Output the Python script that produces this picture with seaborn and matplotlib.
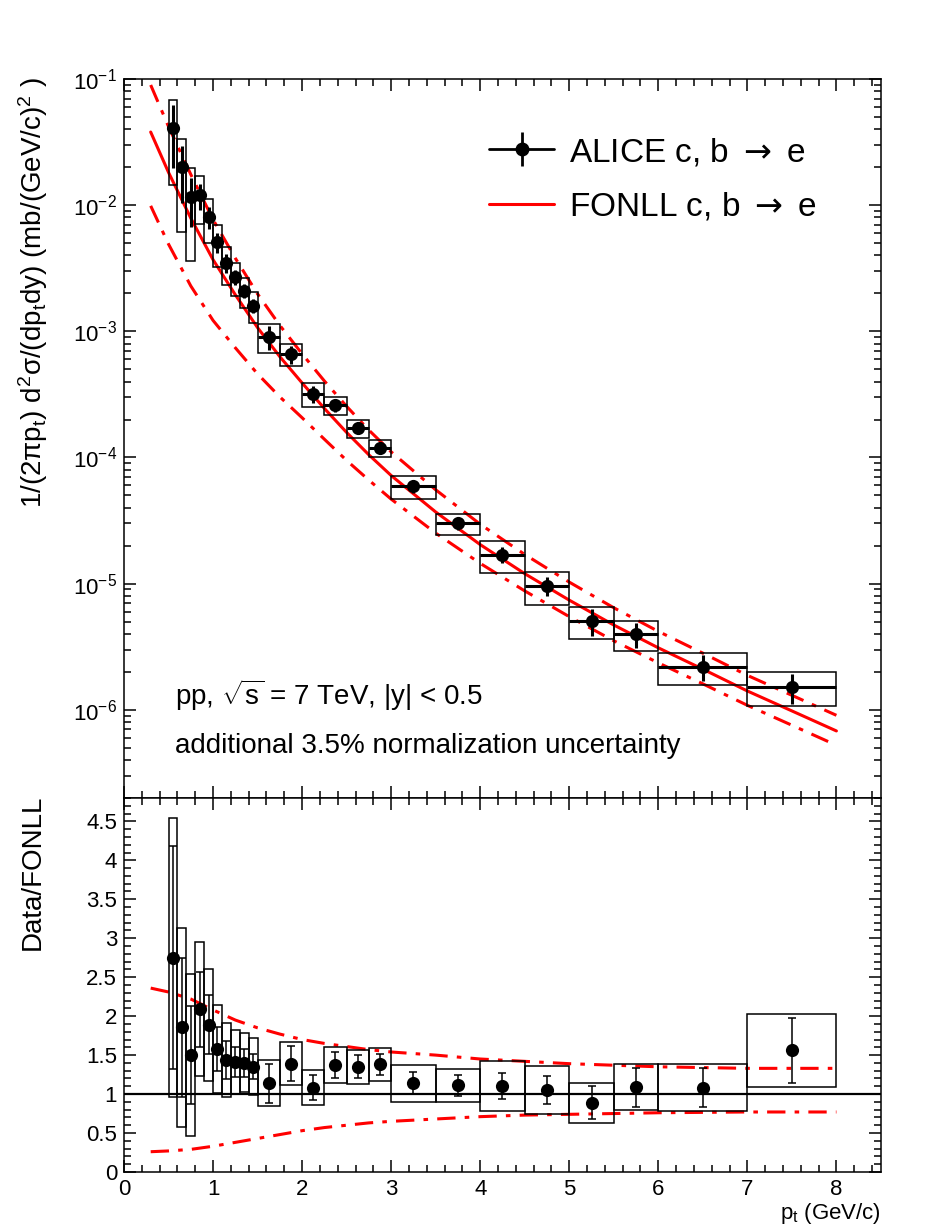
import numpy as np
import matplotlib
matplotlib.use("Agg")
import matplotlib.pyplot as plt
from matplotlib.patches import Rectangle
from matplotlib.lines import Line2D
from matplotlib.ticker import MultipleLocator, LogLocator, NullFormatter
import seaborn as sns

sns.set_style("ticks")
plt.rcParams['font.family'] = ['Liberation Sans', 'DejaVu Sans']
plt.rcParams['mathtext.fontset'] = 'custom'
plt.rcParams['mathtext.rm'] = 'Liberation Sans'
plt.rcParams['mathtext.it'] = 'Liberation Sans'
plt.rcParams['mathtext.sf'] = 'DejaVu Sans'
for key in ['text.color', 'axes.labelcolor', 'xtick.color', 'ytick.color', 'axes.edgecolor']:
    plt.rcParams[key] = 'black'

# ---- data ----
bin_edges = [0.5, 0.6, 0.7, 0.8, 0.9, 1.0, 1.1, 1.2, 1.3, 1.4, 1.5, 1.75, 2.0,
             2.25, 2.5, 2.75, 3.0, 3.5, 4.0, 4.5, 5.0, 5.5, 6.0, 7.0, 8.0]
xsec = [0.0411, 0.0199, 0.0116, 0.0120, 0.0081, 0.0051, 0.0035, 0.0027, 0.0021,
        0.0016, 9.1e-4, 6.6e-4, 3.2e-4, 2.6e-4, 1.71e-4, 1.19e-4, 5.9e-5, 3.0e-5,
        1.70e-5, 9.6e-6, 5.1e-6, 4.0e-6, 2.2e-6, 1.52e-6]
ratio = [2.75, 1.855, 1.50, 2.09, 1.89, 1.58, 1.44, 1.41, 1.40, 1.35, 1.14, 1.39,
         1.08, 1.37, 1.35, 1.38, 1.14, 1.11, 1.10, 1.05, 0.89, 1.09, 1.08, 1.56]
stat_rel = [0.52, 0.48, 0.42, 0.23, 0.20, 0.18, 0.17, 0.14, 0.13, 0.12, 0.22, 0.16,
            0.15, 0.12, 0.11, 0.10, 0.12, 0.12, 0.15, 0.17, 0.24, 0.23, 0.23, 0.27]
sys_rel = [0.65, 0.69, 0.69, 0.41, 0.38, 0.36, 0.33, 0.29, 0.27, 0.27, 0.26, 0.20,
           0.21, 0.17, 0.16, 0.15, 0.21, 0.19, 0.29, 0.29, 0.29, 0.27, 0.28, 0.30]

fonll_pt = [0.3, 0.5, 0.75, 1.0, 1.25, 1.5, 1.75, 2.0, 2.25, 2.5, 2.75, 3.0, 3.5,
            4.0, 4.5, 5.0, 5.5, 6.0, 6.5, 7.0, 7.5, 8.0]
fonll_central = [0.038, 0.0182, 0.0079, 0.0037, 0.00195, 0.00107, 6.3e-4, 3.9e-4,
                 2.45e-4, 1.58e-4, 1.05e-4, 7.2e-5, 3.7e-5, 2.04e-5, 1.2e-5, 7.4e-6,
                 4.7e-6, 3.1e-6, 2.1e-6, 1.41e-6, 9.8e-7, 6.8e-7]
fonll_up_ratio = [2.36, 2.31, 2.22, 2.08, 1.95, 1.85, 1.77, 1.70, 1.65, 1.61, 1.57,
                  1.54, 1.50, 1.45, 1.42, 1.39, 1.37, 1.35, 1.34, 1.33, 1.33, 1.33]
fonll_lo_ratio = [0.26, 0.27, 0.29, 0.33, 0.38, 0.43, 0.48, 0.53, 0.57, 0.60, 0.63,
                  0.65, 0.68, 0.71, 0.73, 0.74, 0.75, 0.76, 0.765, 0.77, 0.77, 0.77]

edges = np.array(bin_edges)
pt = 0.5 * (edges[:-1] + edges[1:])
half_w = 0.5 * (edges[1:] - edges[:-1])
xsec = np.array(xsec)
ratio = np.array(ratio)
stat_rel = np.array(stat_rel)
sys_rel = np.array(sys_rel)
fpt = np.array(fonll_pt)
fc = np.array(fonll_central)
fup = np.array(fonll_up_ratio)
flo = np.array(fonll_lo_ratio)

dashdot = (0, (6, 3, 1.5, 3))

fig = plt.figure(figsize=(9.5, 12.29), dpi=100)
ax1 = fig.add_axes([0.1305, 0.3507, 0.7968, 0.5850])
ax2 = fig.add_axes([0.1305, 0.0464, 0.7968, 0.3043])

# ---- top panel ----
for lo, w, y, s in zip(edges[:-1], 2 * half_w, xsec, sys_rel):
    ax1.add_patch(Rectangle((lo, y * (1 - s)), w, 2 * s * y, fill=False,
                            ec='black', lw=1.1, zorder=3))
sns.lineplot(x=fpt, y=fc, ax=ax1, color='red', lw=2.2, zorder=2)
sns.lineplot(x=fpt, y=fc * fup, ax=ax1, color='red', lw=2.2, linestyle=dashdot, zorder=2)
sns.lineplot(x=fpt, y=fc * flo, ax=ax1, color='red', lw=2.2, linestyle=dashdot, zorder=2)
ax1.errorbar(pt, xsec, xerr=half_w, yerr=xsec * stat_rel, fmt='none',
             ecolor='black', elinewidth=2.2, zorder=4)
sns.scatterplot(x=pt, y=xsec, ax=ax1, color='black', s=90, edgecolor='black',
                linewidth=0, zorder=5)

ax1.set_yscale('log')
ax1.set_xlim(0, 8.5)
ax1.set_ylim(2e-7, 0.1)
ax1.yaxis.set_major_locator(LogLocator(base=10, numticks=20))
ax1.yaxis.set_minor_locator(LogLocator(base=10, subs=np.arange(2, 10), numticks=20))
ax1.yaxis.set_minor_formatter(NullFormatter())
ax1.xaxis.set_major_locator(MultipleLocator(1))
ax1.xaxis.set_minor_locator(MultipleLocator(0.2))
ax1.set_xticklabels([])
ax1.set_xlabel('')
ax1.set_ylabel('')

ax1.text(0.067, 0.143, r'pp, $\sqrt{s}$ = 7 TeV, |y| < 0.5', transform=ax1.transAxes,
         fontsize=20, va='center', ha='left')
ax1.text(0.067, 0.072, 'additional 3.5% normalization uncertainty',
         transform=ax1.transAxes, fontsize=20, va='center', ha='left')

h_data = (Line2D([], [], color='black', lw=2, marker='o', ms=9),
          Line2D([], [], color='black', ls='none', marker='|', ms=24, mew=2))
h_fonll = Line2D([], [], color='red', lw=2.2)
fig.legend([h_data, h_fonll],
           [r'ALICE c, b $\mathsf{\rightarrow}$ e', r'FONLL c, b $\mathsf{\rightarrow}$ e'],
           loc='upper left', bbox_to_anchor=(489 / 950, 1 - 136 / 1229),
           frameon=False, fontsize=24, handlelength=1.95, handletextpad=0.45,
           labelspacing=0.68, borderpad=0, borderaxespad=0)

# ---- ratio panel ----
for lo, w, r, s in zip(edges[:-1], 2 * half_w, ratio, sys_rel):
    ax2.add_patch(Rectangle((lo, r * (1 - s)), w, 2 * s * r, fill=False,
                            ec='black', lw=1.1, zorder=3))
ax2.axhline(1, color='black', lw=1.6, zorder=2)
sns.lineplot(x=fpt, y=fup, ax=ax2, color='red', lw=2.2, linestyle=dashdot, zorder=2)
sns.lineplot(x=fpt, y=flo, ax=ax2, color='red', lw=2.2, linestyle=dashdot, zorder=2)
ax2.errorbar(pt, ratio, yerr=ratio * stat_rel, fmt='none', ecolor='black',
             elinewidth=1.1, capsize=2.8, capthick=1.1, zorder=4)
sns.scatterplot(x=pt, y=ratio, ax=ax2, color='black', s=90, edgecolor='black',
                linewidth=0, zorder=5)

ax2.set_xlim(0, 8.5)
ax2.set_ylim(0, 4.8)
ax2.xaxis.set_major_locator(MultipleLocator(1))
ax2.xaxis.set_minor_locator(MultipleLocator(0.2))
ax2.yaxis.set_major_locator(MultipleLocator(0.5))
ax2.yaxis.set_minor_locator(MultipleLocator(0.1))
ax2.yaxis.set_major_formatter(plt.FuncFormatter(lambda v, p: f'{v:g}'))
ax2.set_xlabel('')
ax2.set_ylabel('')

for ax in (ax1, ax2):
    ax.tick_params(which='both', direction='in', top=True, right=True, width=1.1,
                   labelsize=16, pad=5, colors='black')
    ax.tick_params(which='major', length=8.8)
    ax.tick_params(which='minor', length=4.8)
    for sp in ax.spines.values():
        sp.set_linewidth(1.1)
        sp.set_visible(True)
        sp.set_color('black')

fig.text(33 / 950, 1 - 77 / 1229,
         r'1/(2$\pi$p$_{\mathrm{t}}$) d$^{2}\sigma$/(dp$_{\mathrm{t}}$dy) (mb/(GeV/c)$^{2}$ )',
         rotation=90, ha='center', va='top', fontsize=20)
fig.text(33 / 950, 1 - 795 / 1229, 'Data/FONLL', rotation=90, ha='center', va='top',
         fontsize=20)
fig.text(881 / 950, 1 - 1213 / 1229, r'p$_{\mathrm{t}}$ (GeV/c)', ha='right',
         va='center', fontsize=16)

fig.savefig('out.png', dpi=100)
